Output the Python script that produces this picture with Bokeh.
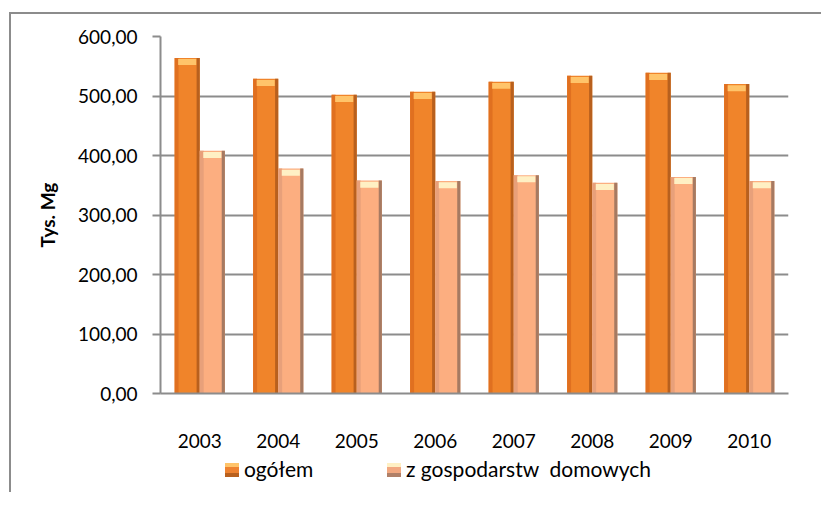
from bokeh.plotting import figure
from bokeh.models import (ColumnDataSource, FactorRange, Range1d, FixedTicker,
                          CustomJSTickFormatter, Div)
from bokeh.layouts import column
from bokeh.transform import dodge
from bokeh.embed import file_html
from bokeh.resources import INLINE

years = ["2003", "2004", "2005", "2006", "2007", "2008", "2009", "2010"]
ogolem = [564, 529, 502, 507, 524, 534, 539, 520]
domowych = [408, 378, 358, 357, 367, 354, 364, 357]
y_ticks = [0, 100, 200, 300, 400, 500, 600]
series_names = ["ogółem", "z gospodarstw  domowych"]

FONT = "Lato"
GRID = "#8c8c8c"

src = ColumnDataSource(dict(year=years, ogolem=ogolem, domowych=domowych))

p = figure(x_range=FactorRange(*years), y_range=Range1d(0, 600),
           width=821, height=455,
           min_border_left=160, min_border_top=36, min_border_right=33,
           min_border_bottom=62,
           output_backend="svg", toolbar_location=None, tools="")

p.border_fill_color = None
p.background_fill_color = None
p.outline_line_color = None
p.xgrid.grid_line_color = None
p.ygrid.grid_line_color = GRID
p.ygrid.grid_line_width = 2
p.yaxis.ticker = FixedTicker(ticks=y_ticks)
p.yaxis.formatter = CustomJSTickFormatter(code="return tick.toFixed(2).replace('.', ',');")
p.yaxis.axis_label = "Tys. Mg"
p.yaxis.axis_label_text_font = FONT
p.yaxis.axis_label_text_font_style = "bold"
p.yaxis.axis_label_text_font_size = "19px"
p.yaxis.axis_label_text_color = "#000000"
p.yaxis.axis_label_standoff = 16
for ax in (p.xaxis[0], p.yaxis[0]):
    ax.axis_line_color = GRID
    ax.axis_line_width = 2
    ax.major_label_text_font = FONT
    ax.major_label_text_font_size = "19px"
    ax.major_label_text_color = "#000000"
    ax.minor_tick_line_color = None
p.yaxis.major_tick_line_color = GRID
p.yaxis.major_tick_line_width = 2
p.yaxis.major_tick_out = 8
p.yaxis.major_tick_in = 0
p.yaxis.major_label_standoff = 15
p.xaxis.major_tick_line_color = None
p.xaxis.major_label_standoff = 34

W = 0.32
specs = [
    ("ogolem", -0.16, "#F0842A", "#B8601E", "#E07020", "#FFC46A"),
    ("domowych", 0.16, "#FCAE80", "#A67A62", "#E8A07A", "#FFF0C4"),
]
for col, off, base, dark, mid, cap in specs:
    p.vbar(x=dodge("year", off, range=p.x_range), top=col, bottom=0, width=W,
           fill_color=base, line_color=None, source=src)
    p.vbar(x=dodge("year", off - W / 2 + 0.025, range=p.x_range), top=col, bottom=0,
           width=0.05, fill_color=mid, line_color=None, source=src)
    p.vbar(x=dodge("year", off + W / 2 - 0.02, range=p.x_range), top=col, bottom=0,
           width=0.04, fill_color=dark, line_color=None, source=src)
    p.vbar(x=dodge("year", off, range=p.x_range), top=dodge(col, -2, range=p.y_range),
           bottom=dodge(col, -12, range=p.y_range), width=W * 0.72,
           fill_color=cap, line_color=None, source=src)

marker_css = [
    "linear-gradient(#FFC46A 0 30%, #EE8230 30% 75%, #B8601E 75%)",
    "linear-gradient(#FFF0C4 0 30%, #F2A880 30% 75%, #B08068 75%)",
]
lefts = [(225, 244), (387, 406)]
parts = []
for (mx, tx), name, bg in zip(lefts, series_names, marker_css):
    parts.append(
        f'<span style="position:absolute;left:{mx}px;top:8px;width:14px;height:14px;'
        f'background:{bg};"></span>'
        f'<span style="position:absolute;left:{tx}px;top:0px;font-family:{FONT};'
        f'font-size:21px;line-height:28px;color:#000;white-space:pre;">{name}</span>'
    )
legend_div = Div(text='<div style="position:relative;width:821px;height:37px;">'
                 + "".join(parts) + "</div>",
                 width=821, height=37, margin=0)

layout = column(p, legend_div, spacing=0)
layout.styles = {
    "background": ("linear-gradient(#8c8c8c,#8c8c8c) 9px 12px / 100% 2px no-repeat, "
                   "linear-gradient(#8c8c8c,#8c8c8c) 9px 12px / 2px 100% no-repeat, "
                   "#ffffff")
}

open("out.html", "w").write(file_html(layout, INLINE))
